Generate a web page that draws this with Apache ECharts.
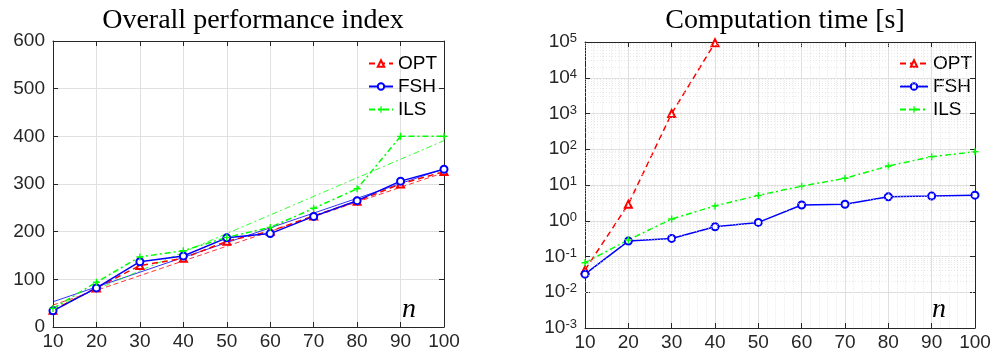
<!DOCTYPE html>
<html>
<head>
<meta charset="utf-8">
<script src="https://cdn.jsdelivr.net/npm/echarts@6/dist/echarts.min.js"></script>
<style>
  html, body { margin: 0; padding: 0; background: #fff; }
  #main { width: 994px; height: 357px; }
</style>
</head>
<body>
<div id="main"></div>
<script>
// problem size n
var nValues = [10, 20, 30, 40, 50, 60, 70, 80, 90, 100];

// overall performance index
var perfOPT = [35, 82, 129, 144, 180, 201, 233, 264, 300, 326];
var perfFSH = [34, 82, 137, 149, 187, 196, 232, 265, 306, 331];
var perfILS = [39, 94, 147, 160, 188, 209, 249, 290, 400, 400];

// thin trend lines (endpoints at n = 10 and n = 100)
var trendN = [10, 100];
var trendOPT = [46, 324];
var trendFSH = [53, 332];
var trendILS = [40, 391];

// computation time [s]
var timeOPT = [0.042, 2.9, 1000, 95000];
var timeFSH = [0.032, 0.27, 0.32, 0.68, 0.9, 2.75, 2.9, 4.7, 4.9, 5.2];
var timeILS = [0.067, 0.29, 1.12, 2.6, 5.1, 9.3, 15.4, 34, 62, 85];

var perfTicks = [0, 100, 200, 300, 400, 500, 600];
var timeDecades = [-3, -2, -1, 0, 1, 2, 3, 4, 5];

var RED = '#ff0000', BLUE = '#0000ff', GREEN = '#00ff00';
var AXIS = '#262626', GRID = '#e0e0e0';
var SANS = 'Liberation Sans', SERIF = 'Liberation Serif';
var dashDot = [6, 3, 2, 3];
var plusSymbol = 'path://M4,0h2v4h4v2h-4v4h-2v-4h-4v-2h4z';

function pairs(xs, ys) {
  return ys.map(function (y, i) { return [xs[i], y]; });
}

// minor grid for the log axis: 2..9 x 10^k
var minorLines = [];
timeDecades.slice(0, -1).forEach(function (e) {
  for (var m = 2; m <= 9; m++) minorLines.push({ yAxis: m * Math.pow(10, e) });
});

var axisLabel = { fontFamily: SANS, fontSize: 19, color: AXIS };

function boxAxis(extra) {
  return Object.assign({
    axisLine: { show: true, onZero: false, lineStyle: { color: AXIS, width: 1 } },
    axisTick: { show: true, inside: true, length: 5, lineStyle: { color: AXIS } },
    axisLabel: { show: false },
    splitLine: { show: false }
  }, extra);
}

var myChart = echarts.init(document.getElementById('main'));
var option = {
  animation: false,
  backgroundColor: '#fff',
  title: [{
    text: 'Overall performance index',
    left: 248, top: 2, textAlign: 'center',
    textStyle: { fontFamily: SERIF, fontSize: 28, fontWeight: 'normal', color: '#000' }
  }, {
    text: 'Computation time [s]',
    left: 780, top: 2, textAlign: 'center',
    textStyle: { fontFamily: SERIF, fontSize: 28, fontWeight: 'normal', color: '#000' }
  }],
  legend: [{
    orient: 'vertical', left: 363, top: 49,
    itemWidth: 24, itemHeight: 8, itemGap: 4,
    data: ['OPT', 'FSH', 'ILS'],
    textStyle: { fontFamily: SANS, fontSize: 19, color: '#000' }
  }, {
    orient: 'vertical', left: 894, top: 49,
    itemWidth: 28, itemHeight: 8, itemGap: 4,
    data: ['OPT', 'FSH', 'ILS'],
    textStyle: { fontFamily: SANS, fontSize: 19, color: '#000' }
  }],
  grid: [
    { left: 53, right: 550, top: 41, bottom: 30 },
    { left: 585, right: 19, top: 42, bottom: 29 }
  ],
  xAxis: [
    boxAxis({
      gridIndex: 0, type: 'value', min: 10, max: 100, interval: 10,
      axisLabel: Object.assign({ margin: 5 }, axisLabel),
      splitLine: { show: true, lineStyle: { color: GRID } }
    }),
    boxAxis({ gridIndex: 0, type: 'value', position: 'top', min: 10, max: 100, interval: 10 }),
    boxAxis({
      gridIndex: 1, type: 'value', min: 10, max: 100, interval: 10,
      axisLabel: Object.assign({ margin: 5 }, axisLabel),
      splitLine: { show: true, lineStyle: { color: GRID } },
      minorTick: { show: false, splitNumber: 5 },
      minorSplitLine: { show: true, lineStyle: { color: '#ececec', type: 'dotted' } }
    }),
    boxAxis({ gridIndex: 1, type: 'value', position: 'top', min: 10, max: 100, interval: 10 })
  ],
  yAxis: [
    boxAxis({
      gridIndex: 0, type: 'value', min: perfTicks[0], max: perfTicks[perfTicks.length - 1], interval: 100,
      axisLabel: Object.assign({ margin: 8 }, axisLabel),
      splitLine: { show: true, lineStyle: { color: GRID } }
    }),
    boxAxis({ gridIndex: 0, type: 'value', position: 'right', min: 0, max: 600, interval: 100 }),
    boxAxis({
      gridIndex: 1, type: 'log', logBase: 10,
      min: Math.pow(10, timeDecades[0]), max: Math.pow(10, timeDecades[timeDecades.length - 1]),
      axisLabel: Object.assign({
        margin: 8,
        formatter: function (v) {
          return '{b|10}{e|' + Math.round(Math.log10(v)) + '}';
        },
        rich: {
          b: { fontFamily: SANS, fontSize: 19, color: AXIS, lineHeight: 20 },
          e: { fontFamily: SANS, fontSize: 13, color: AXIS, verticalAlign: 'top', lineHeight: 20, padding: [0, 0, 8, 0] }
        }
      }, axisLabel),
      splitLine: { show: true, lineStyle: { color: GRID } }
    }),
    boxAxis({
      gridIndex: 1, type: 'log', logBase: 10, position: 'right',
      min: Math.pow(10, timeDecades[0]), max: Math.pow(10, timeDecades[timeDecades.length - 1])
    })
  ],
  graphic: [{
    type: 'text', left: 402, top: 296,
    style: { text: 'n', font: 'italic 28px "Liberation Serif"', fill: '#000' }
  }, {
    type: 'text', left: 932, top: 296,
    style: { text: 'n', font: 'italic 28px "Liberation Serif"', fill: '#000' }
  }],
  series: [
    // left: thin trend lines
    { name: 'trendOPT', type: 'line', xAxisIndex: 0, yAxisIndex: 0, data: pairs(trendN, trendOPT),
      showSymbol: false, lineStyle: { color: RED, width: 0.8, type: [5, 3] }, z: 1 },
    { name: 'trendFSH', type: 'line', xAxisIndex: 0, yAxisIndex: 0, data: pairs(trendN, trendFSH),
      showSymbol: false, lineStyle: { color: BLUE, width: 0.8 }, z: 1 },
    { name: 'trendILS', type: 'line', xAxisIndex: 0, yAxisIndex: 0, data: pairs(trendN, trendILS),
      showSymbol: false, lineStyle: { color: GREEN, width: 0.8, type: dashDot }, z: 1 },
    // left: performance
    { name: 'OPT', type: 'line', xAxisIndex: 0, yAxisIndex: 0, data: pairs(nValues, perfOPT),
      symbol: 'emptyTriangle', symbolSize: 7, color: RED,
      lineStyle: { color: RED, width: 1.5, type: [6, 4] }, itemStyle: { color: RED, borderWidth: 1.2 } },
    { name: 'FSH', type: 'line', xAxisIndex: 0, yAxisIndex: 0, data: pairs(nValues, perfFSH),
      symbol: 'emptyCircle', symbolSize: 7, color: BLUE,
      lineStyle: { color: BLUE, width: 1.5 }, itemStyle: { color: BLUE, borderWidth: 1.2 } },
    { name: 'ILS', type: 'line', xAxisIndex: 0, yAxisIndex: 0, data: pairs(nValues, perfILS),
      symbol: plusSymbol, symbolSize: 7, color: GREEN,
      lineStyle: { color: GREEN, width: 1.5, type: dashDot }, itemStyle: { color: GREEN } },
    // right: computation time
    { name: 'minorGrid', type: 'line', xAxisIndex: 2, yAxisIndex: 2, data: [],
      markLine: { silent: true, symbol: 'none', label: { show: false },
        lineStyle: { color: '#d8d8d8', width: 0.6, type: [1, 2] }, data: minorLines }, z: 0 },
    { name: 'OPT', type: 'line', xAxisIndex: 2, yAxisIndex: 2, data: pairs(nValues, timeOPT),
      symbol: 'emptyTriangle', symbolSize: 7, color: RED,
      lineStyle: { color: RED, width: 1.5, type: [6, 4] }, itemStyle: { color: RED, borderWidth: 1.2 } },
    { name: 'FSH', type: 'line', xAxisIndex: 2, yAxisIndex: 2, data: pairs(nValues, timeFSH),
      symbol: 'emptyCircle', symbolSize: 7, color: BLUE,
      lineStyle: { color: BLUE, width: 1.5 }, itemStyle: { color: BLUE, borderWidth: 1.2 } },
    { name: 'ILS', type: 'line', xAxisIndex: 2, yAxisIndex: 2, data: pairs(nValues, timeILS),
      symbol: plusSymbol, symbolSize: 7, color: GREEN,
      lineStyle: { color: GREEN, width: 1.5, type: dashDot }, itemStyle: { color: GREEN } }
  ]
};
myChart.setOption(option);
</script>
</body>
</html>
